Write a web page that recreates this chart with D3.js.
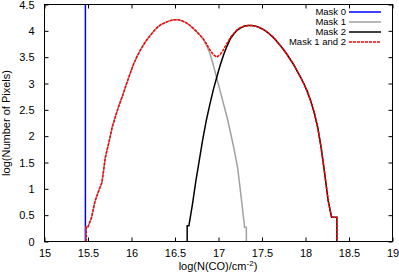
<!DOCTYPE html>
<html>
<head>
<meta charset="utf-8">
<script src="https://cdn.jsdelivr.net/npm/d3@7"></script>
<style>
  body { margin: 0; background: #fff; }
  text { font-family: "Liberation Sans", Arial, sans-serif; fill: #000; }
</style>
</head>
<body>
<div id="chart"></div>
<script>
// histogram bins, width 0.04 in log(N(CO))
var binWidth = 0.04;

var mask0X = 15.47;      // single spike, goes off the top
var mask0Peak = 6;

var mask1Start = 15.48;
var mask1Values = [0.28, 0.45, 0.76, 0.95, 1.12, 1.6, 1.88, 2.18, 2.4, 2.6,
  2.78, 2.98, 3.17, 3.35, 3.5, 3.63, 3.74, 3.84, 3.92, 4.0,
  4.07, 4.12, 4.15, 4.18, 4.2, 4.21, 4.21, 4.19, 4.16, 4.12,
  4.06, 4.0, 3.93, 3.85, 3.73, 3.58, 3.35, 3.1, 2.85, 2.6,
  2.35, 2.05, 1.75, 1.4, 0.85, 0.27];

var mask2Start = 16.64;
var mask2Values = [0.3, 0.7, 1.15, 1.55, 1.95, 2.3, 2.6, 2.88, 3.12, 3.35,
  3.55, 3.72, 3.86, 3.95, 4.02, 4.06, 4.09, 4.1, 4.1, 4.09,
  4.07, 4.04, 4.0, 3.95, 3.89, 3.82, 3.74, 3.66, 3.57, 3.47,
  3.37, 3.25, 3.13, 3.0, 2.85, 2.67, 2.45, 2.17, 1.78, 1.3,
  0.78, 0.46, 0.46];

var bothStart = 15.48;
var bothValues = [0.28, 0.45, 0.76, 0.95, 1.12, 1.6, 1.88, 2.18, 2.4, 2.6,
  2.78, 2.98, 3.17, 3.35, 3.5, 3.63, 3.74, 3.84, 3.92, 4.0,
  4.07, 4.12, 4.15, 4.18, 4.2, 4.21, 4.21, 4.19, 4.16,
  4.12, 4.06, 4.0, 3.93, 3.86, 3.76, 3.64, 3.55, 3.5, 3.55,
  3.65, 3.77, 3.88, 3.96, 4.03, 4.07, 4.09,
  4.1, 4.1, 4.09, 4.07, 4.04, 4.0, 3.95, 3.89, 3.82, 3.74,
  3.66, 3.57, 3.47, 3.37, 3.25, 3.13, 3.0, 2.85, 2.67, 2.45,
  2.17, 1.78, 1.3, 0.78, 0.46, 0.46];

var xTicks = [15, 15.5, 16, 16.5, 17, 17.5, 18, 18.5, 19];
var yTicks = [0, 0.5, 1, 1.5, 2, 2.5, 3, 3.5, 4, 4.5];

var legendNames = ["Mask 0", "Mask 1", "Mask 2", "Mask 1 and 2"];

var width = 399, height = 274;

var svg = d3.select("#chart")
  .append("svg")
  .attr("width", width)
  .attr("height", height);

var x = d3.scaleLinear().domain([15, 19]).range([44.5, 392.5]);
var y = d3.scaleLinear().domain([0, 4.5]).range([241.5, 4.5]);

svg.append("clipPath").attr("id", "plotClip")
  .append("rect")
  .attr("x", x(15)).attr("y", y(4.5))
  .attr("width", x(19) - x(15)).attr("height", y(0) - y(4.5));

// outline through bin centres, with vertical edges down to zero at both ends
function outline(start, values) {
  var n = values.length;
  var pts = [[start, 0], [start, values[0]]];
  values.forEach(function(v, i) {
    pts.push([start + (i + 0.5) * binWidth, v]);
  });
  pts.push([start + n * binWidth, values[n - 1]]);
  pts.push([start + n * binWidth, 0]);
  return pts;
}

var line = d3.line()
  .x(function(d) { return x(d[0]); })
  .y(function(d) { return y(d[1]); });

var plot = svg.append("g").attr("clip-path", "url(#plotClip)");

plot.append("path")
  .datum([[mask0X, 0], [mask0X, mask0Peak]])
  .attr("d", line)
  .attr("fill", "none")
  .attr("stroke", "#0000ff")
  .attr("stroke-width", 1.5);

plot.append("path")
  .datum(outline(mask1Start, mask1Values))
  .attr("d", line)
  .attr("fill", "none")
  .attr("stroke", "#a0a0a0")
  .attr("stroke-width", 1.5);

plot.append("path")
  .datum(outline(mask2Start, mask2Values))
  .attr("d", line)
  .attr("fill", "none")
  .attr("stroke", "#000")
  .attr("stroke-width", 1.5);

plot.append("path")
  .datum(outline(bothStart, bothValues))
  .attr("d", line)
  .attr("fill", "none")
  .attr("stroke", "#ff0000")
  .attr("stroke-width", 1.5)
  .attr("stroke-dasharray", "3,1");

// axes, ticks inward and mirrored
var tickLen = 4;
svg.append("g")
  .attr("transform", "translate(0," + y(0) + ")")
  .call(d3.axisBottom(x).tickValues(xTicks).tickSizeInner(-tickLen).tickSizeOuter(0)
    .tickPadding(8).tickFormat(d3.format("")))
  .call(function(g) { g.select(".domain").remove(); });

svg.append("g")
  .attr("transform", "translate(0," + y(4.5) + ")")
  .call(d3.axisTop(x).tickValues(xTicks).tickSizeInner(-tickLen).tickSizeOuter(0).tickFormat(""))
  .call(function(g) { g.select(".domain").remove(); });

svg.append("g")
  .attr("transform", "translate(" + x(15) + ",0)")
  .call(d3.axisLeft(y).tickValues(yTicks).tickSizeInner(-tickLen).tickSizeOuter(0)
    .tickPadding(10).tickFormat(d3.format("")))
  .call(function(g) { g.select(".domain").remove(); });

svg.append("g")
  .attr("transform", "translate(" + x(19) + ",0)")
  .call(d3.axisRight(y).tickValues(yTicks).tickSizeInner(-tickLen).tickSizeOuter(0).tickFormat(""))
  .call(function(g) { g.select(".domain").remove(); });

svg.selectAll(".tick text")
  .attr("font-size", "11px")
  .attr("font-family", "Liberation Sans, Arial, sans-serif")
  .attr("fill", "#000");

svg.append("rect")
  .attr("x", x(15)).attr("y", y(4.5))
  .attr("width", x(19) - x(15)).attr("height", y(0) - y(4.5))
  .attr("fill", "none")
  .attr("stroke", "#000")
  .attr("stroke-width", 1);

// legend
var legendColors = ["#0000ff", "#a0a0a0", "#000", "#ff0000"];
var legend = svg.append("g").attr("transform", "translate(346,12)");
legendNames.forEach(function(name, i) {
  legend.append("text")
    .attr("x", 0)
    .attr("y", i * 10)
    .attr("dy", "0.35em")
    .attr("text-anchor", "end")
    .attr("font-size", "9.5px")
    .text(name);
  legend.append("line")
    .attr("x1", 3).attr("x2", 35)
    .attr("y1", i * 10).attr("y2", i * 10)
    .attr("stroke", legendColors[i])
    .attr("stroke-width", 1.5)
    .attr("stroke-dasharray", i == 3 ? "3,1" : null);
});

// axis titles
var xl = svg.append("text")
  .attr("x", 218)
  .attr("y", 270)
  .attr("text-anchor", "middle")
  .attr("font-size", "11px");
xl.append("tspan").text("log(N(CO)/cm");
xl.append("tspan").attr("dy", -4).attr("font-size", "8px").text("-2");
xl.append("tspan").attr("dy", 4).text(")");

svg.append("text")
  .attr("transform", "translate(10,123) rotate(-90)")
  .attr("text-anchor", "middle")
  .attr("font-size", "11px")
  .text("log(Number of Pixels)");
</script>
</body>
</html>
